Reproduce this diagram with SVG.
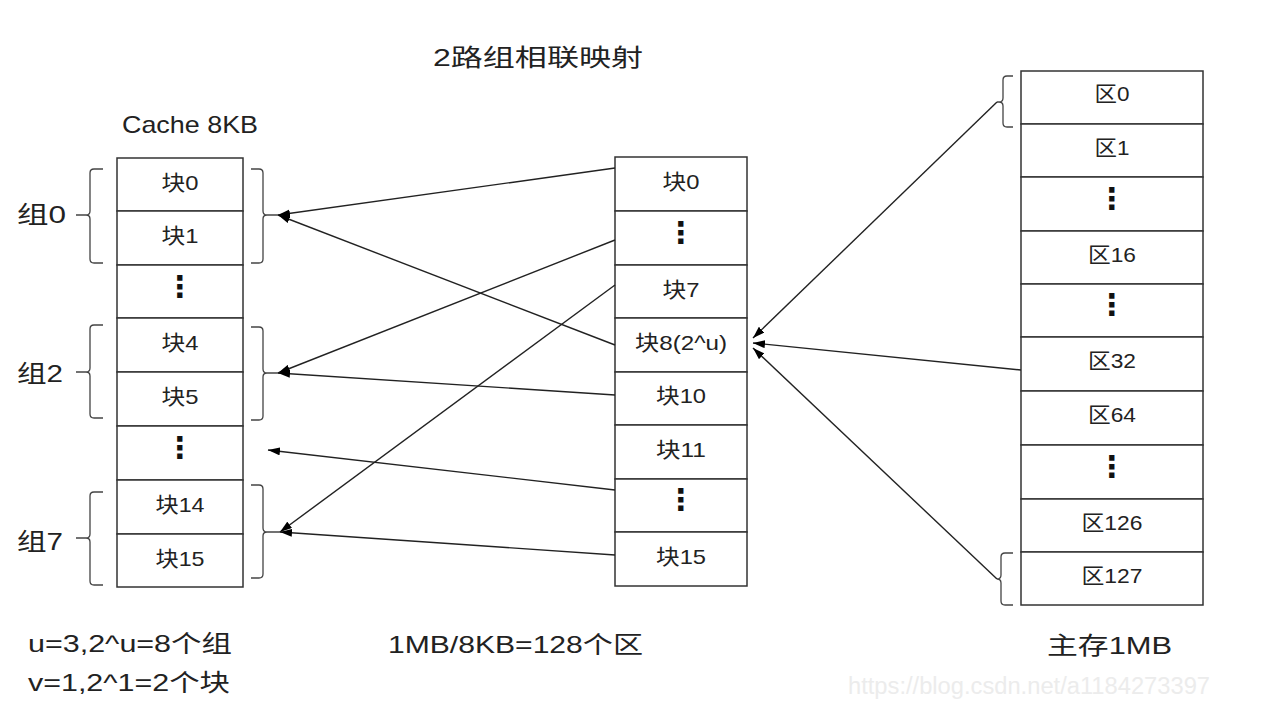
<svg xmlns="http://www.w3.org/2000/svg" width="1265" height="726" viewBox="0 0 1265 726">
<style>
.box{fill:#fff;stroke:#333;stroke-width:1.5}
.t{font-family:"Liberation Sans","Noto Sans CJK SC",sans-serif;font-size:21px;fill:#222;text-anchor:middle}
.lbl{font-family:"Liberation Sans","Noto Sans CJK SC",sans-serif;font-size:24px;fill:#222}
.dots{font-family:"DejaVu Sans",sans-serif;font-weight:bold;font-size:30px;fill:#111;text-anchor:middle}
.brace{fill:none;stroke:#444;stroke-width:1.3}
.conn{fill:none;stroke:#222;stroke-width:1.4}
.wm{font-family:"Liberation Sans",sans-serif;font-size:23px;fill:#ececec}
</style>
<defs>
<marker id="ah" viewBox="0 0 12 8" refX="12" refY="4" markerWidth="12" markerHeight="8" markerUnits="userSpaceOnUse" orient="auto">
<path d="M0,0 L12,4 L0,8 z" fill="#000"/>
</marker>
</defs>
<rect width="1265" height="726" fill="#fff"/>

<text class="lbl" x="433" y="66" textLength="210" lengthAdjust="spacingAndGlyphs">2路组相联映射</text>
<text class="lbl" x="122" y="133" textLength="136" lengthAdjust="spacingAndGlyphs">Cache 8KB</text>

<g id="cache">
<g id="cache-b0"><rect class="box" x="117" y="158" width="126" height="53"/><text class="t" x="180" y="190" textLength="37" lengthAdjust="spacingAndGlyphs">块0</text></g>
<g id="cache-b1"><rect class="box" x="117" y="211" width="126" height="54"/><text class="t" x="180" y="243" textLength="37" lengthAdjust="spacingAndGlyphs">块1</text></g>
<g id="cache-d1"><rect class="box" x="117" y="265" width="126" height="53"/><text class="dots" x="180" y="297">⋮</text></g>
<g id="cache-b4"><rect class="box" x="117" y="318" width="126" height="54"/><text class="t" x="180" y="350" textLength="37" lengthAdjust="spacingAndGlyphs">块4</text></g>
<g id="cache-b5"><rect class="box" x="117" y="372" width="126" height="54"/><text class="t" x="180" y="404" textLength="37" lengthAdjust="spacingAndGlyphs">块5</text></g>
<g id="cache-d2"><rect class="box" x="117" y="426" width="126" height="54"/><text class="dots" x="180" y="458">⋮</text></g>
<g id="cache-b14"><rect class="box" x="117" y="480" width="126" height="54"/><text class="t" x="180" y="512" textLength="49" lengthAdjust="spacingAndGlyphs">块14</text></g>
<g id="cache-b15"><rect class="box" x="117" y="534" width="126" height="53"/><text class="t" x="180" y="566" textLength="49" lengthAdjust="spacingAndGlyphs">块15</text></g>
</g>

<g id="group0">
<text class="lbl" x="17" y="223" textLength="49" lengthAdjust="spacingAndGlyphs">组0</text>
<path class="brace" d="M103,169 H94 Q90,169 90,173 V211 Q90,215 86,215 H76 M86,215 Q90,215 90,219 V259 Q90,263 94,263 H103"/>
<path class="brace" d="M251,169 H259 Q263,169 263,173 V211 Q263,215 267,215 H278 M267,215 Q263,215 263,219 V259 Q263,263 259,263 H251"/>
</g>
<g id="group2">
<text class="lbl" x="17" y="382" textLength="46" lengthAdjust="spacingAndGlyphs">组2</text>
<path class="brace" d="M103,325 H94 Q90,325 90,329 V368 Q90,372 86,372 H76 M86,372 Q90,372 90,376 V414 Q90,418 94,418 H103"/>
<path class="brace" d="M251,327 H259 Q263,327 263,331 V369 Q263,373 267,373 H278 M267,373 Q263,373 263,377 V416 Q263,420 259,420 H251"/>
</g>
<g id="group7">
<text class="lbl" x="17" y="550" textLength="46" lengthAdjust="spacingAndGlyphs">组7</text>
<path class="brace" d="M103,492 H94 Q90,492 90,496 V534 Q90,538 86,538 H76 M86,538 Q90,538 90,542 V581 Q90,585 94,585 H103"/>
<path class="brace" d="M251,485 H259 Q263,485 263,489 V528 Q263,532 267,532 H280 M267,532 Q263,532 263,536 V574 Q263,578 259,578 H251"/>
</g>

<g id="mid">
<g id="mid-b0"><rect class="box" x="615" y="157" width="132" height="54"/><text class="t" x="681" y="189" textLength="37" lengthAdjust="spacingAndGlyphs">块0</text></g>
<g id="mid-d1"><rect class="box" x="615" y="211" width="132" height="54"/><text class="dots" x="681" y="243">⋮</text></g>
<g id="mid-b7"><rect class="box" x="615" y="265" width="132" height="53"/><text class="t" x="681" y="297" textLength="37" lengthAdjust="spacingAndGlyphs">块7</text></g>
<g id="mid-b8"><rect class="box" x="615" y="318" width="132" height="54"/><text class="t" x="681" y="350" textLength="92" lengthAdjust="spacingAndGlyphs">块8(2^u)</text></g>
<g id="mid-b10"><rect class="box" x="615" y="372" width="132" height="53"/><text class="t" x="681" y="403" textLength="50" lengthAdjust="spacingAndGlyphs">块10</text></g>
<g id="mid-b11"><rect class="box" x="615" y="425" width="132" height="54"/><text class="t" x="681" y="457" textLength="50" lengthAdjust="spacingAndGlyphs">块11</text></g>
<g id="mid-d2"><rect class="box" x="615" y="479" width="132" height="53"/><text class="dots" x="681" y="510">⋮</text></g>
<g id="mid-b15"><rect class="box" x="615" y="532" width="132" height="54"/><text class="t" x="681" y="564" textLength="50" lengthAdjust="spacingAndGlyphs">块15</text></g>
</g>

<g id="mem">
<g id="mem-r0"><rect class="box" x="1021" y="71" width="182" height="53"/><text class="t" x="1112" y="101" textLength="35" lengthAdjust="spacingAndGlyphs">区0</text></g>
<g id="mem-r1"><rect class="box" x="1021" y="124" width="182" height="53"/><text class="t" x="1112" y="155" textLength="35" lengthAdjust="spacingAndGlyphs">区1</text></g>
<g id="mem-d1"><rect class="box" x="1021" y="177" width="182" height="54"/><text class="dots" x="1112" y="209">⋮</text></g>
<g id="mem-r16"><rect class="box" x="1021" y="231" width="182" height="53"/><text class="t" x="1112" y="262" textLength="48" lengthAdjust="spacingAndGlyphs">区16</text></g>
<g id="mem-d2"><rect class="box" x="1021" y="284" width="182" height="53"/><text class="dots" x="1112" y="315">⋮</text></g>
<g id="mem-r32"><rect class="box" x="1021" y="337" width="182" height="54"/><text class="t" x="1112" y="368" textLength="48" lengthAdjust="spacingAndGlyphs">区32</text></g>
<g id="mem-r64"><rect class="box" x="1021" y="391" width="182" height="54"/><text class="t" x="1112" y="422" textLength="48" lengthAdjust="spacingAndGlyphs">区64</text></g>
<g id="mem-d3"><rect class="box" x="1021" y="445" width="182" height="54"/><text class="dots" x="1112" y="477">⋮</text></g>
<g id="mem-r126"><rect class="box" x="1021" y="499" width="182" height="53"/><text class="t" x="1112" y="530" textLength="61" lengthAdjust="spacingAndGlyphs">区126</text></g>
<g id="mem-r127"><rect class="box" x="1021" y="552" width="182" height="53"/><text class="t" x="1112" y="583" textLength="61" lengthAdjust="spacingAndGlyphs">区127</text></g>
<path class="brace" d="M1013,76 H1007 Q1003,76 1003,80 V98 Q1003,102 999,102 H997 M999,102 Q1003,102 1003,106 V123 Q1003,127 1007,127 H1013"/>
<path class="brace" d="M1013,553 H1005 Q1001,553 1001,557 V575 Q1001,579 997,579 M997,579 Q1001,579 1001,583 V601 Q1001,605 1005,605 H1013"/>
</g>

<g id="connectors">
<line class="conn" x1="615" y1="168" x2="278" y2="215" marker-end="url(#ah)"/>
<line class="conn" x1="615" y1="345" x2="278" y2="215" marker-end="url(#ah)"/>
<line class="conn" x1="615" y1="240" x2="278" y2="373" marker-end="url(#ah)"/>
<line class="conn" x1="615" y1="395" x2="278" y2="373" marker-end="url(#ah)"/>
<line class="conn" x1="615" y1="285" x2="280" y2="532" marker-end="url(#ah)"/>
<line class="conn" x1="615" y1="490" x2="268" y2="450" marker-end="url(#ah)"/>
<line class="conn" x1="615" y1="555" x2="280" y2="532" marker-end="url(#ah)"/>
<line class="conn" x1="997" y1="102" x2="753" y2="338" marker-end="url(#ah)"/>
<line class="conn" x1="1021" y1="370" x2="753" y2="343" marker-end="url(#ah)"/>
<line class="conn" x1="997" y1="579" x2="753" y2="348" marker-end="url(#ah)"/>
</g>

<text class="lbl" x="28" y="652" textLength="204" lengthAdjust="spacingAndGlyphs">u=3,2^u=8个组</text>
<text class="lbl" x="28" y="691" textLength="202" lengthAdjust="spacingAndGlyphs">v=1,2^1=2个块</text>
<text class="lbl" x="388" y="653" textLength="255" lengthAdjust="spacingAndGlyphs">1MB/8KB=128个区</text>
<text class="lbl" x="1047" y="654" textLength="125" lengthAdjust="spacingAndGlyphs">主存1MB</text>
<text class="wm" x="848" y="694" textLength="362" lengthAdjust="spacingAndGlyphs">https://blog.csdn.net/a1184273397</text>
</svg>
